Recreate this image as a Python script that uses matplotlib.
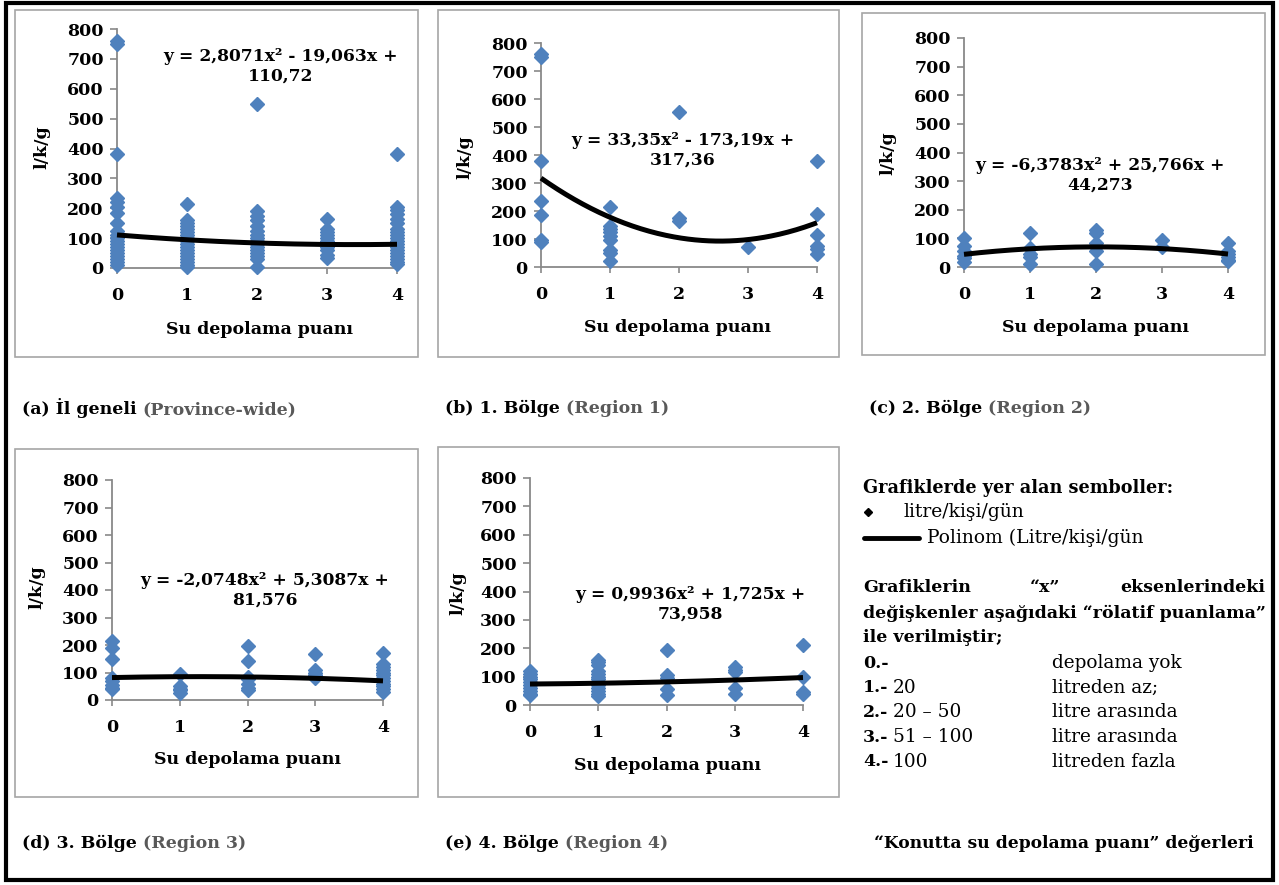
import numpy as np
import matplotlib
matplotlib.use("Agg")
import matplotlib.pyplot as plt
from matplotlib.patches import Rectangle

# Su depolama puanı (x) ve litre/kişi/gün (y) değerleri
scores = [0, 1, 2, 3, 4]

province = [
    [760, 750, 380, 235, 220, 205, 185, 150, 125, 110, 100, 90, 80, 70, 60, 50, 40, 30, 20, 10],
    [215, 160, 150, 140, 130, 120, 110, 100, 90, 80, 70, 60, 50, 40, 30, 20, 10, 5],
    [550, 190, 175, 160, 140, 125, 110, 100, 90, 80, 70, 60, 50, 40, 30, 5],
    [165, 130, 120, 110, 100, 90, 80, 70, 60, 45, 35],
    [380, 205, 195, 180, 165, 150, 130, 120, 110, 100, 90, 80, 70, 60, 50, 40, 30, 20, 15],
]
region1 = [
    [760, 750, 380, 235, 185, 95, 90],
    [215, 145, 135, 125, 110, 95, 60, 50, 22],
    [552, 175, 165],
    [71],
    [380, 190, 113, 75, 65, 48],
]
region2 = [
    [102, 75, 55, 40, 30, 18],
    [120, 65, 45, 35, 9],
    [131, 120, 85, 70, 55, 10],
    [93, 70],
    [84, 55, 45, 35, 25, 20],
]
region3 = [
    [216, 190, 149, 80, 70, 55, 45, 40],
    [96, 50, 40, 35, 25],
    [195, 143, 85, 75, 60, 45, 35],
    [169, 110, 100, 90, 80],
    [170, 130, 120, 110, 100, 90, 80, 70, 60, 50, 40, 30],
]
region4 = [
    [120, 110, 100, 90, 80, 70, 60, 50, 40, 35],
    [160, 150, 140, 120, 110, 100, 90, 80, 70, 60, 50, 40, 30],
    [193, 105, 95, 55, 35],
    [135, 125, 115, 60, 40],
    [210, 100, 45, 40],
]

# polinom (2. derece) katsayıları
province_fit = [2.8071, -19.063, 110.72]
region1_fit = [33.35, -173.19, 317.36]
region2_fit = [-6.3783, 25.766, 44.273]
region3_fit = [-2.0748, 5.3087, 81.576]
region4_fit = [0.9936, 1.725, 73.958]

W, H = 1279, 885
BLUE = "#4F81BD"
AXGRAY = "#898989"
FRAMEGRAY = "#A6A6A6"

plt.rcParams["font.family"] = ["DejaVu Serif"]
plt.rcParams["font.weight"] = "bold"
plt.rcParams["axes.labelweight"] = "bold"

fig = plt.figure(figsize=(W / 100, H / 100), dpi=100)

# pixel overlay for frames and free text
ov = fig.add_axes([0, 0, 1, 1])
ov.set_xlim(0, W)
ov.set_ylim(H, 0)
ov.axis("off")
ov.patch.set_alpha(0)

ov.add_patch(Rectangle((6, 3), 1267, 877, fill=False, ec="black", lw=3))


def fmt(v):
    return str(abs(v)).replace(".", ",")


def equation(c):
    s = "y = " + ("-" if c[0] < 0 else "") + fmt(c[0]) + "x²"
    s += (" - " if c[1] < 0 else " + ") + fmt(c[1]) + "x"
    s += (" - " if c[2] < 0 else " +") + "\n" + fmt(c[2])
    return s


def panel(frame, box, groups, coefs, eq_xy, ylab_xy, xlab_xy):
    fl, ft, fr, fb = frame
    ov.add_patch(Rectangle((fl, ft), fr - fl, fb - ft, fill=False, ec=FRAMEGRAY, lw=1.2))
    l, t, r, b = box
    ax = fig.add_axes([l / W, 1 - b / H, (r - l) / W, (b - t) / H])
    ax.patch.set_alpha(0)
    for sc, vals in zip(scores, groups):
        ax.plot([sc] * len(vals), vals, "D", ms=6.9, color=BLUE, mec=BLUE,
                clip_on=False, zorder=3)
    xs = np.linspace(0, 4, 200)
    ax.plot(xs, np.polyval(coefs, xs), color="black", lw=3.6, zorder=4,
            solid_capstyle="butt", clip_on=False)
    ax.set_xlim(0, 4)
    ax.set_ylim(0, 800)
    ax.set_xticks(scores)
    ax.set_yticks(range(0, 801, 100))
    for side in ("top", "right"):
        ax.spines[side].set_visible(False)
    for side in ("left", "bottom"):
        ax.spines[side].set_color(AXGRAY)
        ax.spines[side].set_linewidth(1.3)
    ax.tick_params(axis="y", direction="out", length=5, width=1.2, color=AXGRAY,
                   pad=4.5, labelsize=12.5)
    ax.tick_params(axis="x", direction="out", length=4, width=1.2, color=AXGRAY,
                   pad=10, labelsize=12.5)
    ax.set_xlabel("Su depolama puanı", fontsize=12.5, fontweight="bold", va="center")
    ax.xaxis.set_label_coords((xlab_xy[0] - l) / (r - l), (b - xlab_xy[1]) / (b - t))
    ax.set_ylabel("l/k/g", fontsize=12.5, fontweight="bold", va="center")
    ax.yaxis.set_label_coords((ylab_xy[0] - l) / (r - l), (b - ylab_xy[1]) / (b - t))
    ov.text(eq_xy[0], eq_xy[1], equation(coefs), ha="center", va="center",
            multialignment="center", fontsize=12.3, linespacing=1.2)
    return ax


panel((15, 10, 418, 357), (117, 29, 397, 268), province, province_fit,
      (281, 66), (42, 147), (260, 330))
panel((438, 10, 839, 357), (541, 43, 817, 267), region1, region1_fit,
      (683, 150), (465, 157), (678, 328))
panel((862, 13, 1265, 355), (964, 38, 1228, 267), region2, region2_fit,
      (1100, 175), (888, 153), (1095, 328))
panel((15, 449, 418, 797), (112, 480, 383, 700), region3, region3_fit,
      (265, 590), (37, 587), (247, 760))
panel((438, 447, 839, 797), (530, 478, 803, 705), region4, region4_fit,
      (690, 604), (458, 593), (667, 765))

# panel captions
captions = [
    (22, 408, "(a) İl geneli ", "(Province-wide)"),
    (445, 408, "(b) 1. Bölge ", "(Region 1)"),
    (869, 408, "(c) 2. Bölge ", "(Region 2)"),
    (22, 843, "(d) 3. Bölge ", "(Region 3)"),
    (445, 843, "(e) 4. Bölge ", "(Region 4)"),
]
for x, y, main, sub in captions:
    t1 = ov.text(x, y, main, ha="left", va="center", fontsize=12.5)
    ov.annotate(sub, xy=(1, 0), xycoords=t1, ha="left", va="bottom",
                fontsize=12.5, color="#595959")

# symbol explanation block
ov.text(863, 488, "Grafiklerde yer alan semboller:", ha="left", va="center", fontsize=12.7)
ov.plot([868], [512], "D", ms=4.5, color="black")
ov.text(904, 512, "litre/kişi/gün", ha="left", va="center", fontsize=13.5, fontweight="normal")
ov.plot([864, 919], [538, 538], color="black", lw=3.5, solid_capstyle="round")
ov.text(927, 538, "Polinom (Litre/kişi/gün", ha="left", va="center", fontsize=13.5,
        fontweight="normal")

ov.text(863, 588, "Grafiklerin", ha="left", va="center", fontsize=12.5)
ov.text(1045, 588, "“x”", ha="center", va="center", fontsize=12.5)
ov.text(1265, 588, "eksenlerindeki", ha="right", va="center", fontsize=12.5)
ov.text(863, 613, "değişkenler aşağıdaki “rölatif puanlama”", ha="left", va="center",
        fontsize=12.5)
ov.text(863, 638, "ile verilmiştir;", ha="left", va="center", fontsize=12.5)

score_labels = ["0.-", "1.-", "2.-", "3.-", "4.-"]
score_ranges = ["", "20", "20 – 50", "51 – 100", "100"]
score_notes = ["depolama yok", "litreden az;", "litre arasında", "litre arasında",
               "litreden fazla"]
for i, (lab, rng, note) in enumerate(zip(score_labels, score_ranges, score_notes)):
    y = 663 + i * 24.7
    ov.text(863, y, lab, ha="left", va="center", fontsize=12.5)
    ov.text(893, y, rng, ha="left", va="center", fontsize=13.3, fontweight="normal")
    ov.text(1052, y, note, ha="left", va="center", fontsize=13.3, fontweight="normal")

ov.text(1064, 843, "“Konutta su depolama puanı” değerleri", ha="center", va="center",
        fontsize=12.3)

fig.savefig("out.png", dpi=100)
